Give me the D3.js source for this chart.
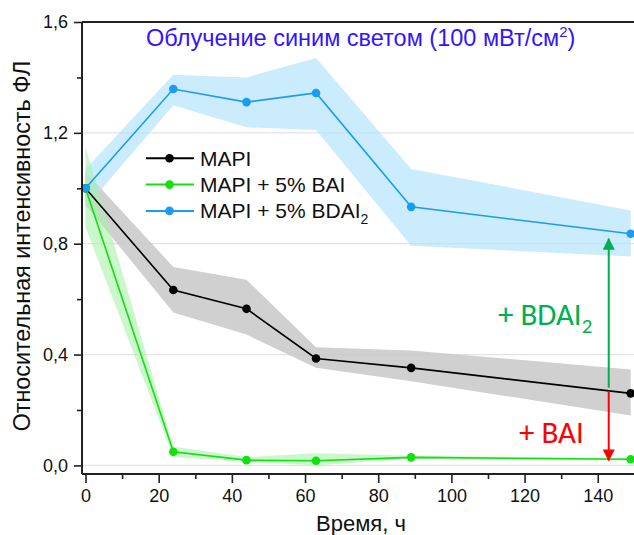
<!DOCTYPE html>
<html><head><meta charset="utf-8">
<script src="https://cdn.jsdelivr.net/npm/d3@7"></script>
<style>
html,body{margin:0;padding:0;background:#fff;}
svg{display:block;font-family:"Liberation Sans",Arial,sans-serif;}
</style></head>
<body>
<svg id="c" width="634" height="535"></svg>
<script>
// ---- data ----
const times = [0, 24, 44, 63, 89, 149];
const mapi      = [1.0, 0.633, 0.565, 0.386, 0.352, 0.260];
const mapiUp    = [1.06, 0.716, 0.670, 0.426, 0.415, 0.346];
const mapiLo    = [0.94, 0.552, 0.472, 0.352, 0.304, 0.180];
const bai       = [1.0, 0.049, 0.019, 0.017, 0.029, 0.022];
const baiUp     = [1.15, 0.067, 0.030, 0.044, 0.035, 0.027];
const baiLo     = [0.86, 0.030, 0.012, 0.001, 0.024, 0.018];
const bdai      = [1.0, 1.358, 1.311, 1.344, 0.933, 0.836];
const bdaiUp    = [1.07, 1.41, 1.40, 1.47, 1.07, 0.92];
const bdaiLo    = [0.93, 1.30, 1.22, 1.21, 0.793, 0.754];
const xTicks = [0, 20, 40, 60, 80, 100, 120, 140];
const yTicks = [0.0, 0.4, 0.8, 1.2, 1.6];
const seriesNames = ["MAPI", "MAPI + 5% BAI", "MAPI + 5% BDAI"];
const title = "Облучение синим светом (100 мВт/см";
const xTitle = "Время, ч";
const yTitle = "Относительная интенсивность ФЛ";

const svg = d3.select("#c");
const x = d3.scaleLinear().domain([-0.96, 151]).range([82, 638]);
const y = d3.scaleLinear().domain([-0.031, 1.6]).range([474, 22]);
const L = 82, R = 638, T = 22, B = 474;

// grid
svg.append("g").selectAll("line").data(yTicks.filter(v => v < 1.6)).join("line")
  .attr("x1", L).attr("x2", R).attr("y1", d => y(d)).attr("y2", d => y(d))
  .attr("stroke", "#e3e3e3").attr("stroke-width", 1.2);

const series = [
  {name: seriesNames[0], v: mapi, up: mapiUp, lo: mapiLo, line: "#000000", fill: "#c8c8c8", fo: 0.85},
  {name: seriesNames[1], v: bai, up: baiUp, lo: baiLo, line: "#11e011", fill: "#aaf0aa", fo: 0.6},
  {name: seriesNames[2], v: bdai, up: bdaiUp, lo: bdaiLo, line: "#1a9cf0", fill: "#aee2fa", fo: 0.65}
];

const area = d3.area().x((d, i) => x(times[i])).y0(d => y(d[0])).y1(d => y(d[1]));
const line = d3.line().x((d, i) => x(times[i])).y(d => y(d));

const bandOrder = [0, 2, 1];
bandOrder.forEach(k => {
  const s = series[k];
  svg.append("path").datum(s.lo.map((v, i) => [v, s.up[i]]))
    .attr("d", area).attr("fill", s.fill).attr("fill-opacity", s.fo);
});
series.forEach(s => {
  svg.append("path").datum(s.v).attr("d", line).attr("fill", "none")
    .attr("stroke", s.line).attr("stroke-width", 1.6);
  svg.append("g").selectAll("circle").data(s.v).join("circle")
    .attr("cx", (d, i) => x(times[i])).attr("cy", d => y(d)).attr("r", 4.3).attr("fill", s.line);
});

// frame
svg.append("line").attr("x1", L).attr("x2", R).attr("y1", T).attr("y2", T).attr("stroke", "#222").attr("stroke-width", 2);

// axes
const xAxis = svg.append("g").attr("transform", `translate(0,${B})`)
  .call(d3.axisBottom(x).tickValues(xTicks).tickSize(9).tickPadding(6).tickFormat(d3.format("d")));
svg.append("g").attr("transform", `translate(0,${B})`)
  .call(d3.axisBottom(x).tickValues(d3.range(10, 150, 20)).tickSize(5).tickFormat(""))
  .call(g => g.select(".domain").remove());
const yAxis = svg.append("g").attr("transform", `translate(${L},0)`)
  .call(d3.axisLeft(y).tickValues(yTicks).tickSize(8).tickPadding(6).tickFormat(d => d3.format(".1f")(d).replace(".", ",")));
svg.append("g").attr("transform", `translate(${L},0)`)
  .call(d3.axisLeft(y).tickValues([0.2, 0.6, 1.0, 1.4]).tickSize(5).tickFormat(""))
  .call(g => g.select(".domain").remove());
svg.selectAll(".domain").attr("stroke", "#222").attr("stroke-width", 2);
svg.selectAll(".tick line").attr("stroke", "#222").attr("stroke-width", 1.6);
svg.selectAll(".tick text").attr("font-size", 18).attr("fill", "#111")
  .attr("font-family", "'Liberation Sans',Arial,sans-serif");
xAxis.select(".domain").attr("d", `M${L},0H${R}`);
yAxis.select(".domain").attr("d", `M0,${B}V${T}`);

// titles
svg.append("text").attr("x", 361).attr("y", 531).attr("text-anchor", "middle")
  .attr("font-size", 22).attr("fill", "#111").text(xTitle);
svg.append("text").attr("transform", "translate(30,246) rotate(-90)").attr("text-anchor", "middle")
  .attr("font-size", 23.3).attr("fill", "#111").text(yTitle);

const tt = svg.append("text").attr("x", 146).attr("y", 46).attr("font-size", 23.5).attr("fill", "#3414ff");
tt.append("tspan").text(title);
tt.append("tspan").attr("dy", -9).attr("font-size", 15).text("2");
tt.append("tspan").attr("dy", 9).text(")");

// legend
series.forEach((s, i) => {
  const ly = 158.3 + i * 26.3;
  svg.append("line").attr("x1", 146).attr("x2", 194).attr("y1", ly).attr("y2", ly)
    .attr("stroke", s.line).attr("stroke-width", 2);
  svg.append("circle").attr("cx", 169.5).attr("cy", ly).attr("r", 4.3).attr("fill", s.line);
  const t = svg.append("text").attr("x", 200).attr("y", ly + 7.5).attr("font-size", 21).attr("fill", "#111");
  t.append("tspan").text(s.name);
  if (i === 2) t.append("tspan").attr("dy", 6).attr("font-size", 14).text("2");
});

// arrows
const defs = svg.append("defs");
function marker(id, col) {
  defs.append("marker").attr("id", id).attr("viewBox", "0 0 12 12").attr("refX", 11).attr("refY", 6)
    .attr("markerWidth", 12).attr("markerHeight", 12).attr("markerUnits", "userSpaceOnUse").attr("orient", "auto")
    .append("path").attr("d", "M0,0L12,6L0,12Z").attr("fill", col);
}
marker("ag", "#00b050");
marker("ar", "#ff0000");
const ax = x(143);
svg.append("line").attr("x1", ax).attr("x2", ax).attr("y1", y(0.28)).attr("y2", y(0.818))
  .attr("stroke", "#00b050").attr("stroke-width", 2).attr("marker-end", "url(#ag)");
svg.append("line").attr("x1", ax).attr("x2", ax).attr("y1", y(0.266)).attr("y2", y(0.018))
  .attr("stroke", "#ff0000").attr("stroke-width", 2).attr("marker-end", "url(#ar)");

const fa = "Carlito,Lato,'Open Sans',sans-serif";
const tb = svg.append("text").attr("x", 498).attr("y", 325).attr("font-size", 31).attr("fill", "#00b050").attr("font-family", fa);
tb.append("tspan").text("+ BDAI");
tb.append("tspan").attr("dy", 8).attr("font-size", 21).text("2");
svg.append("text").attr("x", 519).attr("y", 443).attr("font-size", 31).attr("fill", "#ff0000").attr("font-family", fa).text("+ BAI");
</script>
</body></html>
